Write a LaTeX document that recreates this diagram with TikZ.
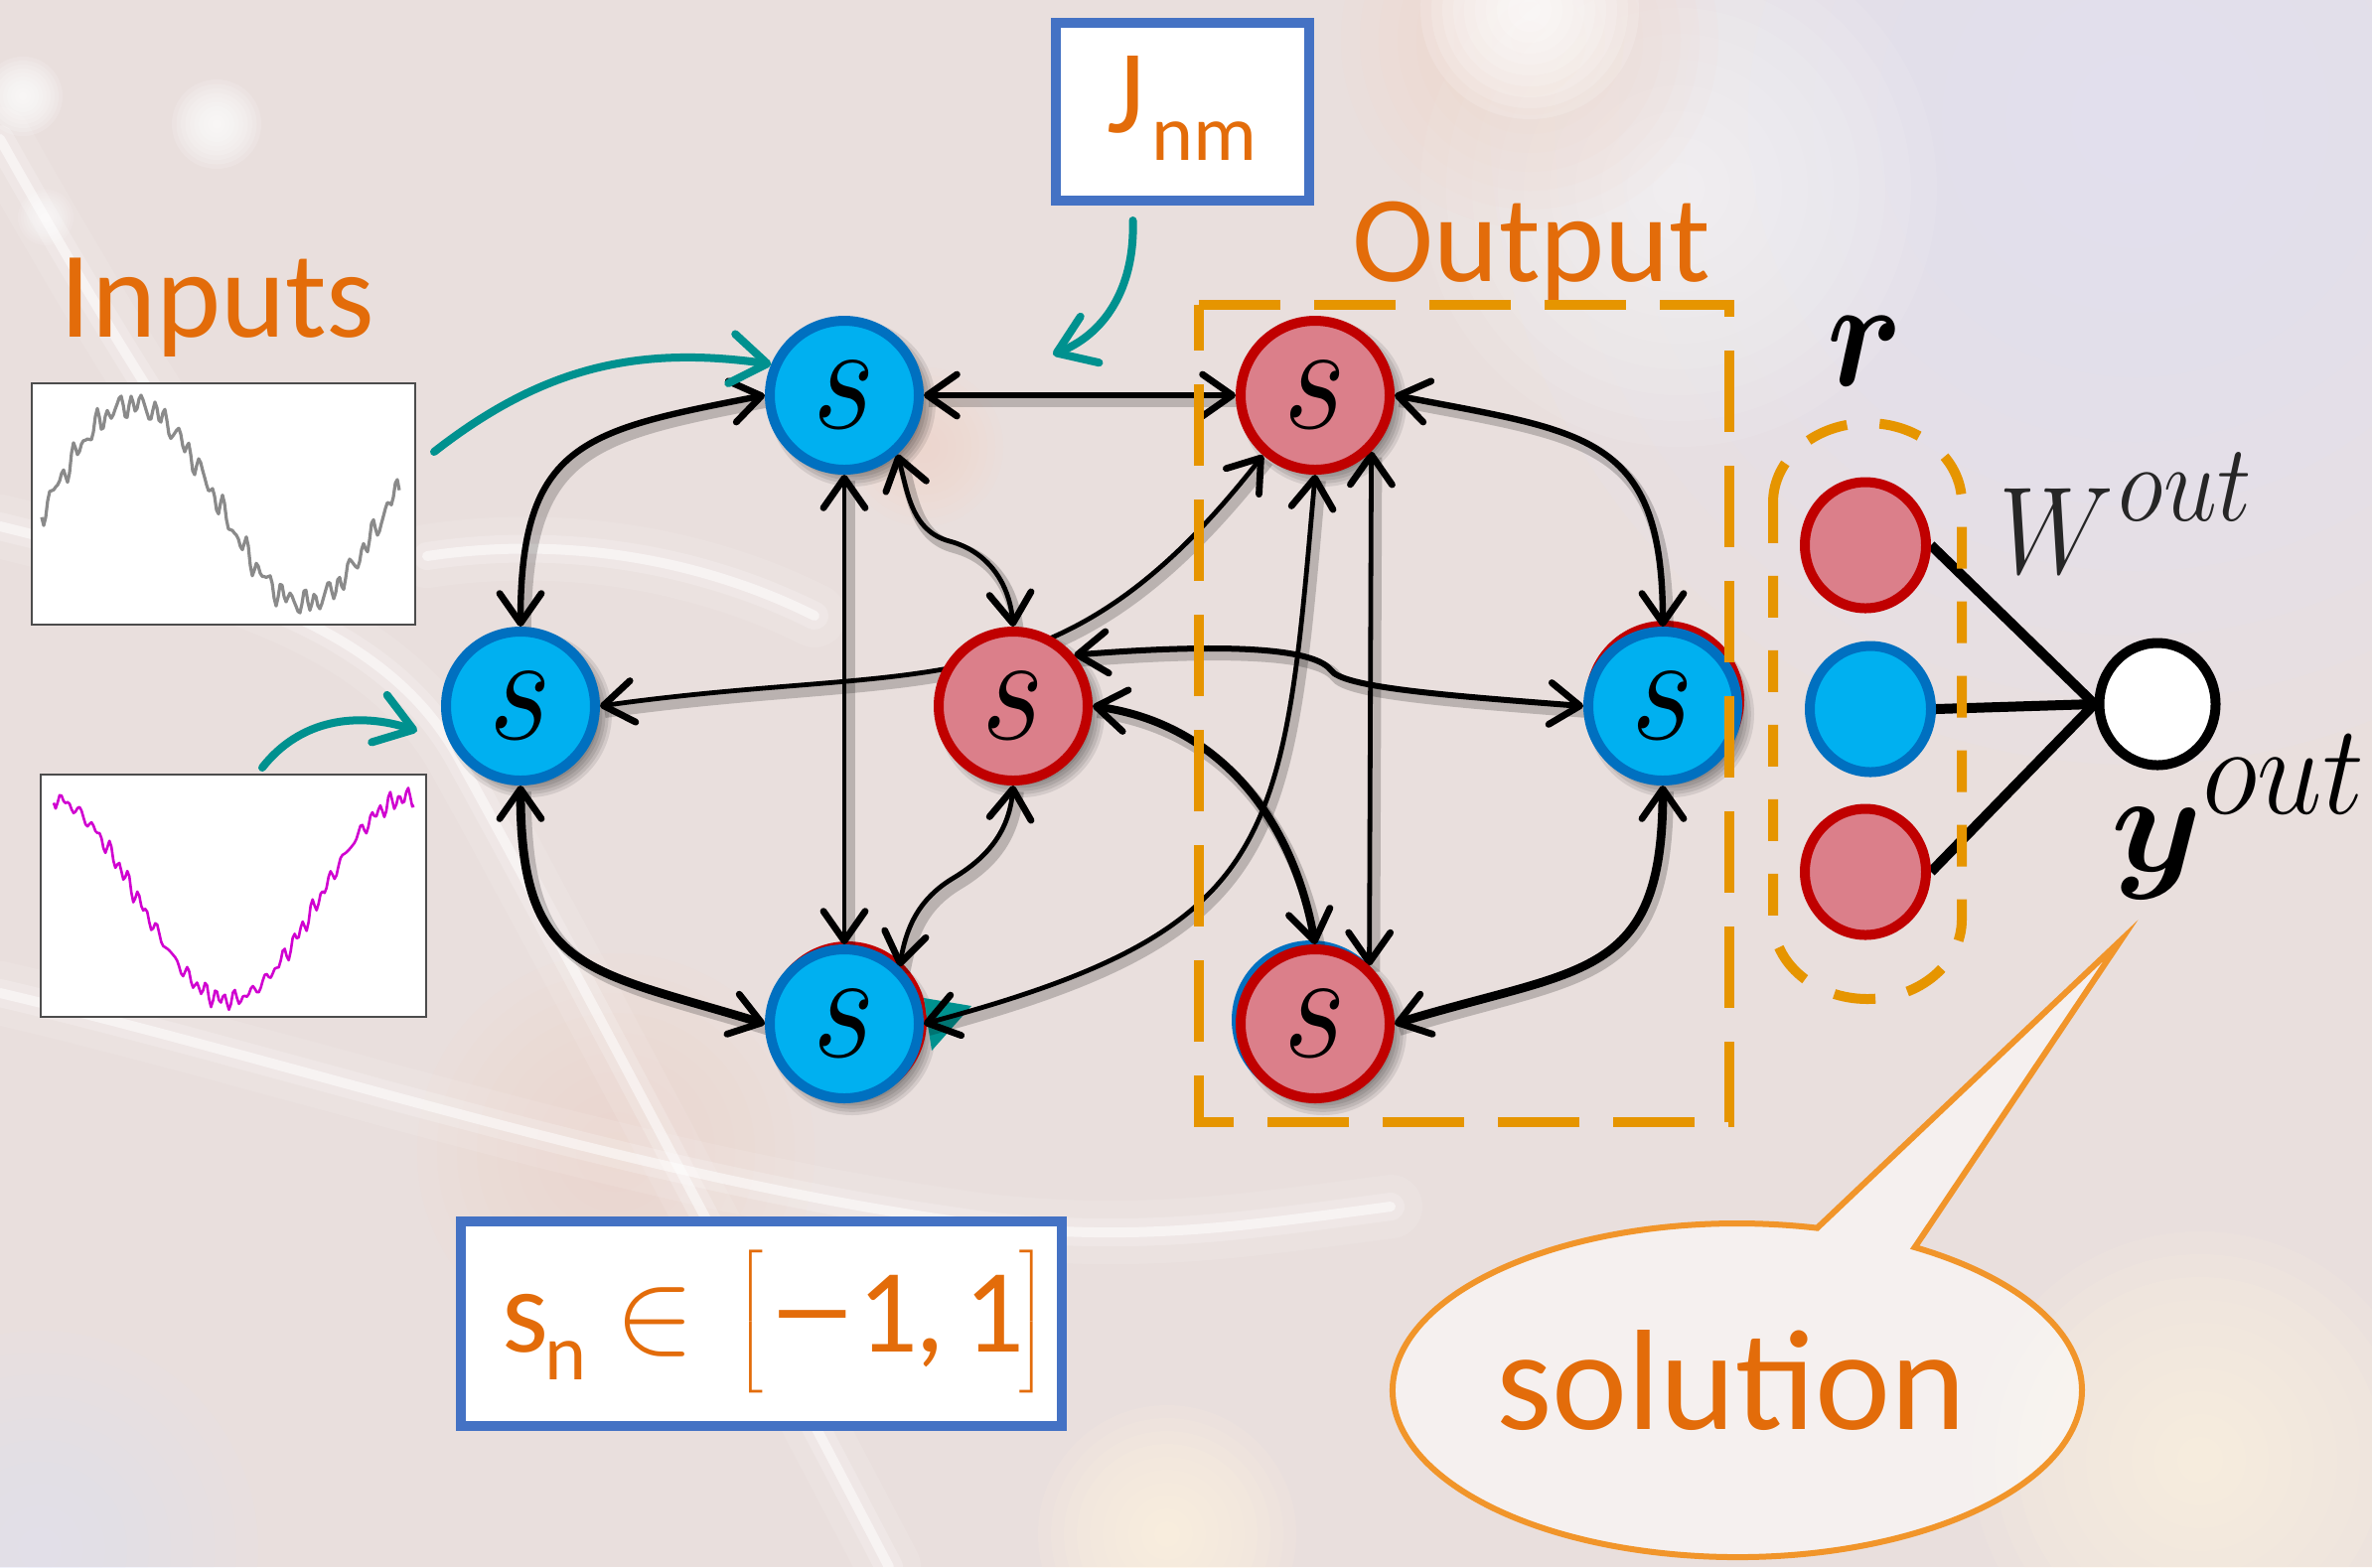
\RequirePackage{fix-cm}
\documentclass[tikz,border=0pt]{standalone}
\usepackage{fontspec}
\setmainfont{Carlito}
\usepackage{bm}
\usetikzlibrary{arrows.meta,shapes.geometric}

\definecolor{bgbase}{HTML}{E9DFDD}
\definecolor{bglav}{HTML}{E2E4F7}
\definecolor{warmglow}{HTML}{FFF4E4}
\definecolor{pinkglow}{HTML}{F8D6C8}
\definecolor{cellblue}{HTML}{00B0F0}
\definecolor{rimblue}{HTML}{0070C0}
\definecolor{cellpink}{HTML}{DB7F8A}
\definecolor{rimred}{HTML}{C00000}
\definecolor{labelorange}{HTML}{E36C0A}
\definecolor{dashorange}{HTML}{E69500}
\definecolor{bubbleorange}{HTML}{F1952A}
\definecolor{frameblue}{HTML}{4472C4}
\definecolor{feedteal}{HTML}{00918F}
\definecolor{tracegray}{HTML}{8A8A8A}
\definecolor{tracemagenta}{HTML}{D000D0}

\pgfdeclarelayer{backdrop}
\pgfdeclarelayer{shade}
\pgfdeclarelayer{wires}
\pgfsetlayers{backdrop,shade,wires,main}

% italic state symbol used inside every reservoir cell
\newcommand{\cellsym}{\scalebox{1}[1.15]{\fontsize{34}{34}\selectfont$s$}}
% soft light spot: colour, centre, radius, opacity per ring
\newcommand{\glow}[4]{\foreach \k in {1,...,10}{\fill[#1, opacity=#4] (#2) circle ({#3*\k/10});}}
% blurred light streak along a path
\newcommand{\streak}[1]{%
  \draw[white, line cap=round, line width=16pt, opacity=.10] #1;
  \draw[white, line cap=round, line width=7pt, opacity=.20] #1;
  \draw[white, line cap=round, line width=2.5pt, opacity=.50] #1;}
% soft drop shadow below a cell centred at (#1,#2)
\newcommand{\cellshadow}[2]{\foreach \k in {0,...,5}{\fill[black, opacity=.09] ({#1+8},{#2+8}) circle ({68+3.2*\k});}}

\tikzset{
  cell/.style={circle, minimum size=37.5pt, inner sep=0pt, line width=2.5pt},
  bluecell/.style={cell, fill=cellblue, draw=rimblue},
  pinkcell/.style={cell, fill=cellpink, draw=rimred},
  readout/.style={ellipse, minimum width=30.5pt, minimum height=31.75pt, inner sep=0pt, line width=2.5pt},
  wire/.style={<->, >={Straight Barb[length=7.5pt,width=10.5pt,line width=1.7pt,round]},
    line width=1.2pt,
    preaction={draw=black, opacity=.2, line width=3pt, -,
               transform canvas={shift={(1.2pt,-1.5pt)}}}},
  feed/.style={->, >={Straight Barb[length=9pt,width=12.5pt,line width=2pt,round]},
    draw=feedteal, line width=2pt, line cap=round},
  labelbox/.style={draw=frameblue, line width=2.5pt, fill=white, inner sep=0pt},
  caption/.style={text=labelorange, inner sep=0pt, font=\fontsize{31}{31}\selectfont},
  tracebox/.style={draw=black!70, line width=.5pt, fill=white, inner sep=0pt},
  groupdash/.style={draw=dashorange, line width=2.5pt},
}

\begin{document}
\begin{tikzpicture}[x=0.25pt, y=-0.25pt]
\useasboundingbox (0,0) rectangle (2388,1578);

% ---------------- blurred photographic backdrop ----------------
\begin{pgfonlayer}{backdrop}
  \fill[bgbase] (0,0) rectangle (2388,1578);
  \glow{bglav}{2150,120}{650}{.12}
  \glow{bglav}{40,1560}{220}{.08}
  \glow{white}{1690,190}{260}{.08}
  \glow{pinkglow}{1540,40}{190}{.08}
  \glow{white}{1540,10}{110}{.16}
  \glow{white}{23,97}{40}{.15}
  \glow{white}{218,125}{45}{.15}
  \glow{white}{46,219}{28}{.1}
  \glow{pinkglow}{620,1160}{200}{.07}
  \glow{warmglow}{1175,1545}{130}{.14}
  \glow{warmglow}{2215,1470}{230}{.12}
  \glow{pinkglow}{930,450}{80}{.08}
  \streak{(0,140) .. controls (90,300) and (170,430) .. (260,560)}
  \streak{(0,530) .. controls (200,580) and (380,620) .. (460,760) .. controls (560,940) and (760,1320) .. (895,1578)}
  \streak{(0,1000) .. controls (300,1070) and (650,1190) .. (1000,1235) .. controls (1150,1250) and (1250,1235) .. (1400,1215)}
  \streak{(430,560) .. controls (560,540) and (700,560) .. (820,620)}
\end{pgfonlayer}

% ---------------- input traces ----------------
\node[tracebox, minimum width=96.5pt, minimum height=60.75pt, anchor=north west] (plotA) at (31,385) {};
\node[tracebox, minimum width=97pt, minimum height=61pt, anchor=north west] (plotB) at (40,779) {};
\draw[tracegray, line width=.8pt, line join=round]
  plot[domain=0:360, samples=181] ({\x+42}, {507 - 100*sin(1.0435*\x - 5.7) + 8*sin(31*\x) + 5*sin(17*\x+40) + 4*sin(43*\x+10)});
\draw[tracemagenta, line width=.65pt, line join=round]
  plot[domain=0:363, samples=182] ({\x+54}, {905 + 102*cos(0.9863*(\x-176)) + 5*sin(37*\x) + 4*sin(23*\x+30) + 3*sin(41*\x+70)});

% ---------------- reservoir cells ----------------
\node[bluecell] (TL) at (850,398) {\cellsym};
\node[pinkcell] (TR) at (1324,398) {\cellsym};
\node[bluecell] (L)  at (524,711) {\cellsym};
\node[pinkcell] (C)  at (1020,711) {\cellsym};
\node[bluecell] (R)  at (1674,711) {\cellsym};
\node[bluecell] (BL) at (850,1031) {\cellsym};
\node[pinkcell] (BR) at (1324,1031) {\cellsym};

\begin{pgfonlayer}{shade}
  \cellshadow{850}{398}  \cellshadow{1324}{398}
  \cellshadow{524}{711}  \cellshadow{1020}{711} \cellshadow{1674}{711}
  \cellshadow{850}{1031} \cellshadow{1324}{1031}
\end{pgfonlayer}

% ---------------- readout ----------------
\node[readout, fill=cellpink, draw=rimred]  (r1) at (1878,549) {};
\node[readout, fill=cellblue, draw=rimblue] (r2) at (1883,714) {};
\node[readout, fill=cellpink, draw=rimred]  (r3) at (1878,878) {};
\node[readout, fill=white, draw=black, minimum width=29.25pt, minimum height=30.75pt] (yo) at (2172,709) {};

% ---------------- labels and boxes ----------------
\node[labelbox, minimum width=63.75pt, minimum height=44.75pt] (jbox) at (1190.5,112.5) {};
\node[anchor=base west, inner sep=0pt, text=labelorange] (jtext) at (1114,133)
  {\fontsize{30}{30}\selectfont J\hspace{1.5pt}\raisebox{-7pt}{\fontsize{20}{20}\selectfont nm}};

\node[labelbox, minimum width=151.25pt, minimum height=51.4pt] (snbox) at (766,1332.75) {};
\node[anchor=base west, inner sep=0pt, text=labelorange] (sntext) at (503,1361)
  {\fontsize{30}{30}\selectfont
   \rlap{s}%
   \rlap{\hspace{10.75pt}\raisebox{-7pt}{\fontsize{20}{20}\selectfont n}}%
   \rlap{\hspace{28.5pt}$\in$}%
   \rlap{\hspace{59pt}$\left[\vrule height 22pt depth 10pt width 0pt\right.$}%
   \rlap{\hspace{67pt}\scalebox{1.5}[1]{−}}%
   \rlap{\hspace{89.5pt}1}%
   \rlap{\hspace{104pt},}%
   \rlap{\hspace{116.25pt}1}%
   \rlap{\hspace{129pt}$\left.\vrule height 22pt depth 10pt width 0pt\right]$}};

\node[caption, anchor=base west] (inputs) at (60,339) {Inputs};
\node[caption, anchor=base west] (outlab) at (1361,283) {Output};

\node[anchor=base, inner sep=0pt] (rlab) at (1878,388)
  {\scalebox{1}[1.15]{\fontsize{34}{34}\selectfont$\bm{r}$}};
\node[anchor=base west, inner sep=0pt, text=black!85] (wlab) at (2012,577)
  {\scalebox{1.05}[1.2]{\fontsize{26}{26}\selectfont$W$\hspace{1pt}\raisebox{11pt}{\fontsize{23}{23}\selectfont$out$}}};
\node[anchor=base west, inner sep=0pt] (ylab) at (2125,877)
  {\scalebox{1.22}[1.2]{\fontsize{30}{30}\selectfont$\bm{y}$}\raisebox{14.5pt}{\scalebox{1.05}[1.15]{\fontsize{28}{28}\selectfont$out$}}};

% dashed groups: output cells and readout vector
\draw[groupdash, dash pattern=on 20.5pt off 8.5pt]
  (1207,307) -- (1741,307) -- (1741,1130) -- (1207,1130) -- cycle;
\draw[groupdash, dash pattern=on 10.5pt off 8.25pt]
  (1785,506) arc[start angle=180, end angle=0, x radius=23.75pt, y radius=20pt]
  -- (1975,926) arc[start angle=0, end angle=-180, x radius=23.75pt, y radius=20pt] -- cycle;

% speech bubble
\draw[bubbleorange, line width=1.5pt, fill=white, fill opacity=.55]
  (2135,947) -- (1829.4,1236.6)
  arc[start angle=76.6, end angle=419, x radius=86.75pt, y radius=42pt] -- cycle;
\node[caption, anchor=base, font=\fontsize{36}{36}\selectfont] (soln) at (1743,1439) {solution};

% ---------------- connections ----------------
\begin{pgfonlayer}{wires}
  % stacked rims peeking out behind some cells
  \fill[rimred]  (1676,705) circle (80);
  \fill[rimblue] (1320,1027) circle (80);
  \fill[rimred]  (853,1028) circle (80);
  \fill[feedteal] (930,1005) -- (978,1013) -- (938,1058) -- cycle;

  \draw[wire, line width=1.5pt] (TL) -- (TR);
  \draw[wire, line width=1.6pt] (L.north) to[out=90,in=191,looseness=1.4] (TL.west);
  \draw[wire, line width=2.2pt] (L.south) to[out=-90,in=163,looseness=1.4] (BL.west);
  \draw[wire, line width=1.6pt] (TR.east) to[out=-11,in=90,looseness=1.4] (R.north);
  \draw[wire, line width=2.2pt] (R.south) to[out=-90,in=17,looseness=1.4] (BR.east);
  \draw[wire] (TL.south) -- (BL.north);
  \draw[wire] (TR.-45) -- (BR.47);
  \draw[wire] (TL.-48) to[out=-75,in=165] (956,545) to[out=-15,in=95] (C.north);
  \draw[wire] (C.south) to[out=-95,in=31] (960,884) to[out=211,in=80] (BL.46);
  \draw[wire] (L.east) to[out=8,in=232,looseness=1.2] (TR.229);
  \draw[wire, line width=1.5pt] (C.40) .. controls (1200,650) and (1320,648) .. (1340,675)
                                 .. controls (1352,692) and (1450,700) .. (R.west);
  \draw[wire, line width=2pt] (C.east) to[out=-8,in=100] (BR.north);
  \draw[wire] (BL.east) to[out=15,in=-95,looseness=1.4] (TR.south);

  % readout weights
  \draw[line width=2.5pt] (r1.east) -- (yo.west);
  \draw[line width=2.5pt] (r2.east) -- (yo.west);
  \draw[line width=2.5pt] (r3.east) -- (yo.west);
\end{pgfonlayer}

% ---------------- input and coupling arrows ----------------
\coordinate (feedA) at (437,455);
\coordinate (feedB) at (264,773);
\coordinate (feedBend) at (420,736);
\coordinate (jtip) at (1060,357);
\draw[feed] (feedA) to[out=38,in=172] (TL.157);
\draw[feed] (feedB) to[out=52,in=162] (feedBend);
\draw[feed] ([xshift=-12.5pt,yshift=-3.75pt]jbox.south) to[out=-88,in=22] (jtip);

\end{tikzpicture}
\end{document}
